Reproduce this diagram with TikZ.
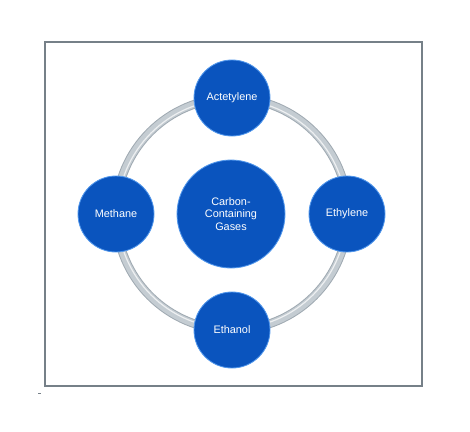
\documentclass[tikz,border=0pt]{standalone}
\usepackage{fontspec}
\setmainfont{Liberation Sans}
\usetikzlibrary{positioning,calc}
\definecolor{gasblue}{RGB}{10,84,190}
\definecolor{rimblue}{RGB}{80,150,235}
\definecolor{framegray}{RGB}{118,128,136}
\definecolor{ringgray}{RGB}{196,204,210}
\definecolor{ringedge}{RGB}{160,170,178}

\begin{document}
\begin{tikzpicture}[
  x=0.5mm, y=-0.5mm,
  font=\fontsize{15.5}{18}\selectfont,
  gas/.style={circle, draw=rimblue, line width=1.2pt, fill=gasblue,
    text=white, align=center, inner sep=0pt, minimum size=38mm},
  hub/.style={gas, minimum size=54mm}
]
\useasboundingbox (0,0) rectangle (470,431);

% frame
\draw[framegray, line width=1.1mm] (45,42) rectangle (422,386);
\draw[framegray, line width=0.5pt] (38,393) -- (41,393);

% ring behind the circles
\draw[ringedge, line width=4.4mm] (232,214) circle (116);
\draw[ringgray, line width=3.4mm] (232,214) circle (116);
\draw[white, opacity=0.7, line width=0.6mm] (232,214) circle (114.5);

\node[hub] (hub) at (231,214) {Carbon-\\Containing\\Gases};
\node[gas] (acet) at (232,98) {Actetylene};
\node[gas] (meth) at (116,214) {Methane};
\node[gas] (ethy) at (347,214) {Ethylene};
\node[gas] (etha) at (232,330) {Ethanol};

\end{tikzpicture}
\end{document}
